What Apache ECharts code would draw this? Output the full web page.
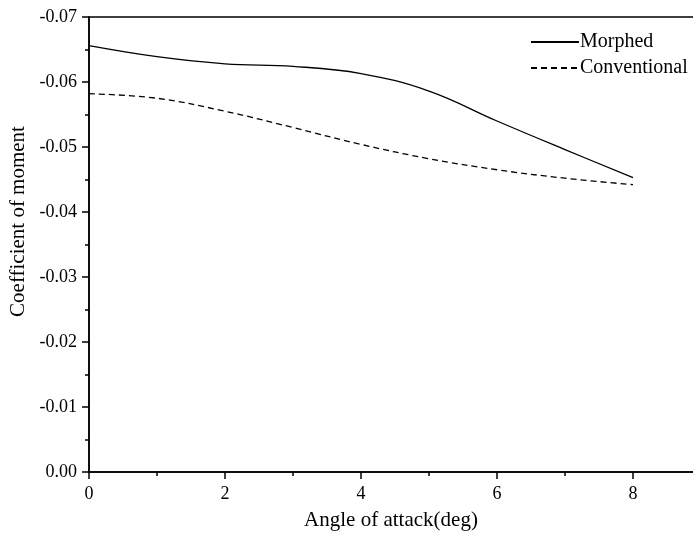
<!DOCTYPE html>
<html>
<head>
<meta charset="utf-8">
<script src="https://cdn.jsdelivr.net/npm/echarts@6/dist/echarts.min.js"></script>
<style>
  html, body { margin: 0; padding: 0; background: #fff; }
  #chart { width: 693px; height: 536px; }
</style>
</head>
<body>
<div id="chart"></div>
<script>
// Angle of attack (deg)
const angles = [0, 1, 2, 3, 4, 5, 6, 7, 8];
// Pitching moment coefficient
const morphed = [-0.0656, -0.0639, -0.0628, -0.0624, -0.0613, -0.0586, -0.0540, -0.0496, -0.0453];
const conventional = [-0.0582, -0.0575, -0.0555, -0.0530, -0.0504, -0.0482, -0.0465, -0.0452, -0.0442];
const yTicks = [-0.07, -0.06, -0.05, -0.04, -0.03, -0.02, -0.01, 0.00];

const font = '"Liberation Serif", "Times New Roman", serif';
const toPairs = (xs, ys) => xs.map((x, i) => [x, ys[i]]);

const chart = echarts.init(document.getElementById('chart'));
chart.setOption({
  animation: false,
  backgroundColor: '#fff',
  grid: {
    left: 89, top: 17, width: 612, height: 455,
    outerBoundsMode: 'none', containLabel: false,
    show: true, borderColor: '#000', borderWidth: 1.5, backgroundColor: 'transparent'
  },
  legend: {
    left: 525, top: 27, orient: 'vertical', itemGap: 6,
    itemWidth: 48, itemHeight: 14,
    itemStyle: { opacity: 0 },
    textStyle: { fontFamily: font, fontSize: 20, color: '#000', padding: [0, 0, 0, -4] },
    data: ['Morphed', 'Conventional']
  },
  xAxis: {
    type: 'value', min: 0, max: 9, interval: 2,
    name: 'Angle of attack(deg)', nameLocation: 'middle', nameGap: 38,
    nameTextStyle: { fontFamily: font, fontSize: 21, color: '#000', padding: [0, 8, 0, 0] },
    axisLine: { lineStyle: { color: '#000', width: 1.5 } },
    axisTick: { length: 7, lineStyle: { color: '#000', width: 1.5 } },
    minorTick: { show: true, splitNumber: 2, length: 4, lineStyle: { color: '#000', width: 1.5 } },
    axisLabel: { fontFamily: font, fontSize: 18, color: '#000', margin: 13, showMaxLabel: false },
    splitLine: { show: false }
  },
  yAxis: {
    type: 'value', min: -0.07, max: 0, interval: 0.01, inverse: true,
    name: 'Coefficient of moment', nameLocation: 'middle', nameGap: 57,
    nameTextStyle: { fontFamily: font, fontSize: 21, color: '#000', padding: [0, 0, 0, 46] },
    axisLine: { lineStyle: { color: '#000', width: 1.5 } },
    axisTick: { length: 7, lineStyle: { color: '#000', width: 1.5 } },
    minorTick: { show: true, splitNumber: 2, length: 4, lineStyle: { color: '#000', width: 1.5 } },
    axisLabel: {
      fontFamily: font, fontSize: 18, color: '#000', margin: 12,
      formatter: v => {
        const t = yTicks.find(k => Math.abs(k - v) < 1e-9);
        return (t === undefined ? v : t).toFixed(2);
      }
    },
    splitLine: { show: false }
  },
  series: [
    {
      name: 'Morphed', type: 'line', smooth: 0.4, symbol: 'none',
      data: toPairs(angles, morphed),
      lineStyle: { color: '#000', width: 1.3, type: 'solid' },
      itemStyle: { color: '#000' }
    },
    {
      name: 'Conventional', type: 'line', smooth: 0.4, symbol: 'none',
      data: toPairs(angles, conventional),
      lineStyle: { color: '#000', width: 1.3, type: [6, 4] },
      itemStyle: { color: '#000' }
    }
  ]
});
</script>
</body>
</html>
